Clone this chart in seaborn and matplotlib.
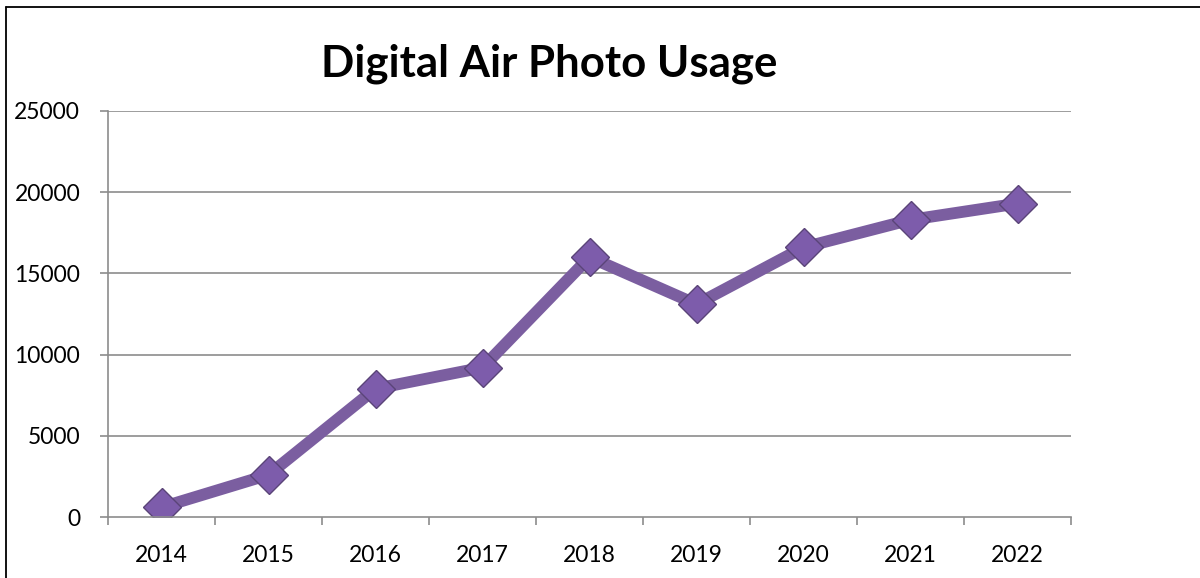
import numpy as np
import pandas as pd
import matplotlib.pyplot as plt
from matplotlib.lines import Line2D
import seaborn as sns

years = ["2014", "2015", "2016", "2017", "2018", "2019", "2020", "2021", "2022"]
usage = [600, 2600, 7900, 9200, 16000, 13100, 16600, 18300, 19300]
y_ticks = [0, 5000, 10000, 15000, 20000, 25000]

sns.set_theme(style="white")
plt.rcParams["font.family"] = ["Lato", "DejaVu Sans"]

df = pd.DataFrame({"year": years, "usage": usage})

fig = plt.figure(figsize=(12, 5.78), dpi=100)
ax = fig.add_axes([0.09, 0.1055, 0.8025, 0.7025])

grid_col = "#8c8c8c"
for v in y_ticks[1:]:
    ax.axhline(v, color=grid_col, lw=1.2, zorder=0)

sns.lineplot(data=df, x="year", y="usage", ax=ax, color="#7b5ea0",
             lw=8.5, marker="D", markersize=19, markerfacecolor="#7d5cab",
             markeredgecolor="#5a4478", markeredgewidth=1.0, sort=False)

ax.set_xlim(-0.5, len(years) - 0.5)
ax.set_ylim(0, 25000)
ax.set_yticks(y_ticks)
ax.set_yticklabels([str(v) for v in y_ticks])
ax.set_xticks(range(len(years)))
ax.set_xticklabels(years)
ax.set_xticks(np.arange(-0.5, len(years)), minor=True)
ax.tick_params(axis="x", which="major", length=0, pad=20, labelsize=16.5, labelcolor="black")
ax.tick_params(axis="x", which="minor", length=6, width=1.2, color=grid_col, bottom=True)
ax.tick_params(axis="y", length=6, width=1.2, color=grid_col, left=True, pad=14,
               labelsize=16.5, labelcolor="black")
ax.set_xlabel("")
ax.set_ylabel("")

for side in ["top", "right"]:
    ax.spines[side].set_visible(False)
for side in ["left", "bottom"]:
    ax.spines[side].set_color(grid_col)
    ax.spines[side].set_linewidth(1.2)

fig.text(0.458, 0.89, "Digital Air Photo Usage", ha="center", va="center",
         fontsize=31.5, fontweight="bold", color="black")

# chart frame (only top/left edges fall inside the image)
fig.add_artist(Line2D([6 / 1200, 6 / 1200], [0, 1 - 7 / 578], color="black", lw=1.3))
fig.add_artist(Line2D([6 / 1200, 1], [1 - 7 / 578, 1 - 7 / 578], color="black", lw=1.3))

fig.savefig("out.png", dpi=100)
